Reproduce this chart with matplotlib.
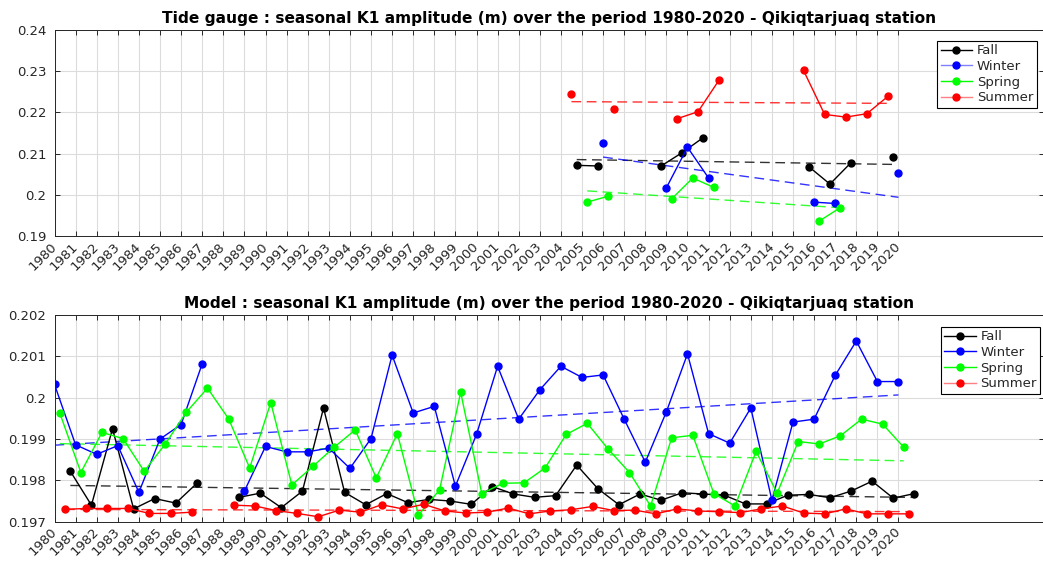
import numpy as np
import matplotlib
matplotlib.use("Agg")
import matplotlib.pyplot as plt
from matplotlib.lines import Line2D
from matplotlib.transforms import ScaledTranslation
from matplotlib.ticker import FormatStrFormatter

nan = np.nan
years = np.arange(1980, 2021)
seasons = ["Fall", "Winter", "Spring", "Summer"]
season_offset = {"Winter": 0.0, "Spring": 0.25, "Summer": 0.5, "Fall": 0.75}
season_color = {"Fall": "#000000", "Winter": "#0000ff", "Spring": "#00ff00", "Summer": "#ff0000"}

# Tide gauge seasonal K1 amplitude (m), 1980-2020 (no observations before 2004)
gauge_fall = [nan] * 24 + [0.20715, 0.20700, nan, nan, 0.20700, 0.21024, 0.21390,
                           nan, nan, nan, nan, 0.20683, 0.20260, 0.20780, nan, 0.20919, nan]
gauge_winter = [nan] * 24 + [nan, nan, 0.21260, nan, nan, 0.20171, 0.21154, 0.20407,
                             nan, nan, nan, nan, 0.19822, 0.19789, nan, nan, 0.20529]
gauge_spring = [nan] * 24 + [nan, 0.19822, 0.19968, nan, nan, 0.19902, 0.20407, 0.20179,
                             nan, nan, nan, nan, 0.19366, 0.19690, nan, nan, nan]
gauge_summer = [nan] * 24 + [0.22439, nan, 0.22073, nan, nan, 0.21846, 0.22017, 0.22788,
                             nan, nan, nan, 0.23017, 0.21951, 0.21886, 0.21968, 0.22390, nan]

# Model seasonal K1 amplitude (m), 1980-2020
model_fall = [0.19822, 0.19740, 0.19925, 0.19731, 0.19756, 0.19745, 0.19793, nan,
              0.19759, 0.19769, 0.19734, 0.19774, 0.19975, 0.19771, 0.19741, 0.19768,
              0.19746, 0.19754, 0.19750, 0.19742, 0.19785, 0.19767, 0.19759, 0.19763,
              0.19837, 0.19780, 0.19741, 0.19767, 0.19752, 0.19770, 0.19767, 0.19764,
              0.19743, 0.19743, 0.19764, 0.19766, 0.19758, 0.19774, 0.19798, 0.19757,
              0.19768]
model_winter = [0.20032, 0.19886, 0.19863, 0.19884, 0.19771, 0.19900, 0.19935, 0.20082,
                nan, 0.19774, 0.19882, 0.19869, 0.19869, 0.19878, 0.19829, 0.19901,
                0.20103, 0.19963, 0.19979, 0.19786, 0.19911, 0.20076, 0.19948, 0.20019,
                0.20076, 0.20049, 0.20055, 0.19948, 0.19844, 0.19966, 0.20106, 0.19913,
                0.19890, 0.19975, 0.19752, 0.19941, 0.19948, 0.20054, 0.20137, 0.20039,
                0.20039]
model_spring = [0.19963, 0.19819, 0.19916, 0.19901, 0.19822, 0.19888, 0.19965, 0.20023,
                0.19949, 0.19830, 0.19988, 0.19789, 0.19834, 0.19880, 0.19922, 0.19806,
                0.19913, 0.19716, 0.19777, 0.20013, 0.19768, 0.19793, 0.19794, 0.19830,
                0.19911, 0.19938, 0.19875, 0.19819, 0.19738, 0.19903, 0.19909, 0.19768,
                0.19738, 0.19870, 0.19769, 0.19894, 0.19888, 0.19908, 0.19948, 0.19936,
                0.19880]
model_summer = [0.19730, 0.19732, 0.19732, 0.19732, 0.19720, 0.19720, 0.19723, nan,
                0.19740, 0.19738, 0.19727, 0.19720, 0.19712, 0.19728, 0.19723, 0.19741,
                0.19731, 0.19742, 0.19726, 0.19721, 0.19723, 0.19733, 0.19719, 0.19726,
                0.19729, 0.19737, 0.19727, 0.19728, 0.19719, 0.19731, 0.19726, 0.19724,
                0.19722, 0.19731, 0.19738, 0.19721, 0.19719, 0.19731, 0.19719, 0.19719,
                0.19719]

gauge = {"Fall": gauge_fall, "Winter": gauge_winter, "Spring": gauge_spring, "Summer": gauge_summer}
model = {"Fall": model_fall, "Winter": model_winter, "Spring": model_spring, "Summer": model_summer}

gauge_title = "Tide gauge : seasonal K1 amplitude (m) over the period 1980-2020 - Qikiqtarjuaq station"
model_title = "Model : seasonal K1 amplitude (m) over the period 1980-2020 - Qikiqtarjuaq station"

W, H = 1043, 563
fig = plt.figure(figsize=(W / 100, H / 100), dpi=100)
plt.rcParams["font.family"] = "DejaVu Sans"

left = 54.5 / W
width = 989.5 / W
x_right = 1980 + 989.5 / 21.1
ax_top = fig.add_axes([left, 1 - 236 / H, width, 206 / H])
ax_bot = fig.add_axes([left, 1 - 521.7 / H, width, 206.7 / H])

text_c = "#262626"


def draw(ax, data, title, ylim, yticks, legend_anchor, legend_colors):
    for s in seasons:
        vals = np.array(data[s], dtype=float)
        x = years + season_offset[s]
        ax.plot(x, vals, "-", color=season_color[s], lw=1.0, marker="o",
                ms=5, mec=season_color[s], mfc=season_color[s], zorder=3)
        # least-squares linear trend over the available seasons
        ok = ~np.isnan(vals)
        coef = np.polyfit(x[ok], vals[ok], 1)
        xt = np.array([x[ok][0], x[ok][-1]])
        ax.plot(xt, np.polyval(coef, xt), "--", color=season_color[s], lw=1.0,
                alpha=0.8, dashes=(7, 4), zorder=2)
    ax.set_xlim(1980, x_right)
    ax.set_ylim(*ylim)
    ax.set_yticks(yticks)
    ax.yaxis.set_major_formatter(FormatStrFormatter("%g"))
    ax.set_xticks(years)
    ax.set_xticklabels([str(y) for y in years], rotation=45, ha="right",
                       va="center", rotation_mode="anchor")
    off = ScaledTranslation(4 / 100, -2 / 100, fig.dpi_scale_trans)
    for lab in ax.get_xticklabels():
        lab.set_transform(lab.get_transform() + off)
    ax.grid(True, color="#dcdcdc", lw=0.8)
    ax.set_axisbelow(True)
    ax.tick_params(direction="in", top=True, right=True, length=3.5, width=0.7,
                   colors=text_c, labelsize=9.5, pad=6)
    for sp in ax.spines.values():
        sp.set_color(text_c)
        sp.set_linewidth(0.7)
    ax.set_title(title, fontsize=11.1, fontweight="bold", pad=5)
    handles = [Line2D([], [], color=legend_colors[s], lw=1.0, marker="o", ms=5,
                      mfc=season_color[s], mec=season_color[s]) for s in seasons]
    leg = ax.legend(handles, seasons, loc="upper right", bbox_to_anchor=legend_anchor,
                    bbox_transform=fig.transFigure, fontsize=9.5, frameon=True,
                    fancybox=False, edgecolor="#000000", framealpha=1,
                    handlelength=2.4, labelspacing=0.2, borderpad=0.25,
                    handletextpad=0.35, borderaxespad=0)
    leg.get_frame().set_linewidth(0.8)
    for t in leg.get_texts():
        t.set_color(text_c)


draw(ax_top, gauge, gauge_title, (0.19, 0.24), [0.19, 0.2, 0.21, 0.22, 0.23, 0.24],
     (1036.5 / W, 1 - 41 / H),
     {"Fall": "#000000", "Winter": "#8080ff", "Spring": "#00ff00", "Summer": "#ff8080"})
draw(ax_bot, model, model_title, (0.197, 0.202),
     [0.197, 0.198, 0.199, 0.2, 0.201, 0.202],
     (1040 / W, 1 - 327 / H),
     {"Fall": "#000000", "Winter": "#0000ff", "Spring": "#00ff00", "Summer": "#ff8080"})

fig.savefig("out.png", dpi=100)
